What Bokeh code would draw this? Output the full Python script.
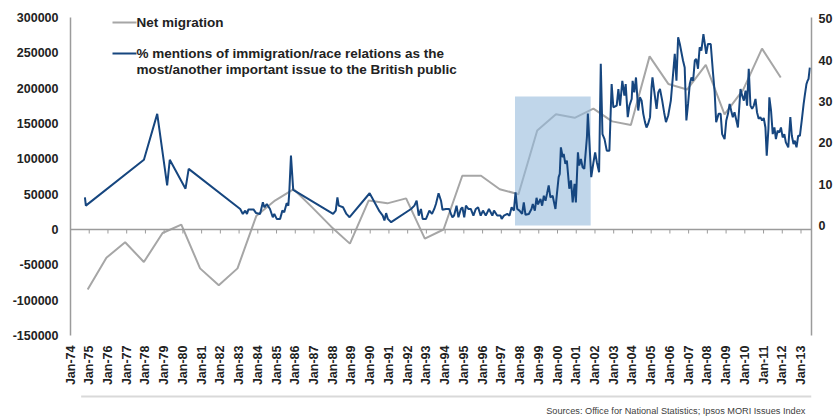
import math
from bokeh.plotting import figure
from bokeh.layouts import column
from bokeh.models import Range1d, LinearAxis, FixedTicker, Label, BoxAnnotation, NumeralTickFormatter, Span
from bokeh.embed import file_html
from bokeh.resources import INLINE

# ---------------- data ----------------
net_years = list(range(1974, 2012))   # plotted at December of each year
net_migration = [-85000, -40000, -18000, -46000, -5000, 7000, -55000, -79000, -55000, 19000,
                 41000, 57000, 31000, 4000, -20000, 41000, 37000, 44000, -13000, 0,
                 76000, 76000, 57000, 50000, 140000, 163000, 158000, 171000, 153000, 148000,
                 245000, 206000, 198000, 233000, 163000, 198000, 256000, 215000]

mori_dates = [
    1974.77, 1974.82, 1977.92, 1978.63, 1979.16, 1979.30, 1980.14, 1980.31,
    1983.06, 1983.20, 1983.33, 1983.42, 1983.50, 1983.77, 1983.91, 1984.12, 1984.27, 1984.35, 1984.48,
    1984.65, 1984.80, 1984.88, 1985.01, 1985.19, 1985.31, 1985.41, 1985.54, 1985.63, 1985.68, 1985.77, 1985.89,
    1988.02, 1988.16, 1988.25, 1988.32, 1988.55, 1988.73, 1988.90, 1989.97,
    1990.50, 1990.67, 1990.76, 1990.85, 1990.94, 1991.12,
    1992.18, 1992.36, 1992.48, 1992.59, 1992.71, 1992.80, 1992.98,
    1993.16, 1993.30, 1993.42, 1993.51, 1993.65, 1993.78, 1993.86,
    1994.04, 1994.22, 1994.31, 1994.39, 1994.48, 1994.61, 1994.71, 1994.84, 1994.92,
    1995.02, 1995.11, 1995.24, 1995.37, 1995.51, 1995.64, 1995.76, 1995.90,
    1996.02, 1996.17, 1996.34, 1996.52, 1996.61, 1996.78, 1996.96,
    1997.02, 1997.14, 1997.32, 1997.44, 1997.55, 1997.67, 1997.76, 1997.85, 1997.97,
    1998.11, 1998.20, 1998.29, 1998.47, 1998.61, 1998.68, 1998.79, 1998.88, 1998.96,
    1999.09, 1999.18, 1999.27, 1999.36, 1999.44, 1999.53, 1999.62, 1999.74, 1999.89, 1999.97,
    2000.06, 2000.12, 2000.18, 2000.28, 2000.33, 2000.42, 2000.50, 2000.63, 2000.72, 2000.81, 2000.91, 2000.98,
    2001.09, 2001.16, 2001.25, 2001.34, 2001.43, 2001.57, 2001.62, 2001.69, 2001.80, 2001.92,
    2002.01, 2002.10, 2002.22, 2002.31, 2002.40, 2002.51, 2002.63, 2002.77, 2002.89, 2002.98,
    2003.16, 2003.25, 2003.34, 2003.46, 2003.57, 2003.64, 2003.75, 2003.84, 2003.96,
    2004.01, 2004.10, 2004.19, 2004.31, 2004.40, 2004.49, 2004.58, 2004.67, 2004.75, 2004.84, 2004.94,
    2005.02, 2005.07, 2005.16, 2005.29, 2005.38, 2005.47, 2005.59, 2005.69, 2005.79, 2005.91,
    2006.05, 2006.17, 2006.26, 2006.35, 2006.44, 2006.53, 2006.70, 2006.79, 2006.88, 2006.97,
    2007.06, 2007.15, 2007.24, 2007.33, 2007.41, 2007.50, 2007.59, 2007.68, 2007.79, 2007.94,
    2008.03, 2008.18, 2008.30, 2008.39, 2008.47, 2008.60, 2008.71, 2008.79, 2008.92,
    2009.01, 2009.10, 2009.19, 2009.27, 2009.36, 2009.45, 2009.59, 2009.63, 2009.77, 2009.86, 2009.95,
    2010.04, 2010.12, 2010.21, 2010.30, 2010.39, 2010.48, 2010.57, 2010.65, 2010.74, 2010.83, 2010.92,
    2011.01, 2011.10, 2011.17, 2011.26, 2011.31, 2011.40, 2011.49, 2011.58, 2011.66, 2011.75, 2011.84, 2011.93,
    2012.02, 2012.11, 2012.19, 2012.32, 2012.43, 2012.51, 2012.60, 2012.67, 2012.76, 2012.85, 2012.94,
    2013.04, 2013.14, 2013.20, 2013.29, 2013.35, 2013.40, 2013.47]

mori_pct = [
    6.8, 4.8, 15.9, 27.0, 9.7, 15.9, 8.9, 13.7,
    4.0, 2.8, 3.6, 2.8, 3.9, 3.9, 3.0, 2.8, 5.6, 4.4, 5.2,
    4.0, 2.0, 2.8, 1.6, 1.6, 3.6, 3.2, 5.4, 4.8, 8.0, 16.9, 8.6,
    2.8, 3.6, 6.8, 4.8, 4.4, 2.8, 2.0, 7.8,
    3.4, 2.4, 1.2, 3.0, 1.6, 0.8,
    4.0, 4.8, 6.0, 2.4, 4.0, 1.6, 1.6,
    3.6, 2.8, 4.0, 5.2, 7.8, 6.0, 3.8,
    4.0, 4.0, 2.8, 2.0, 2.4, 4.8, 2.0, 4.0, 4.4,
    2.0, 4.8, 4.0, 4.0, 2.4, 4.0, 4.4, 2.4,
    3.6, 2.4, 4.0, 2.4, 3.6, 2.4, 2.4,
    1.6, 2.4, 2.8, 2.4, 4.4, 3.6, 8.0, 4.0, 3.6,
    2.8, 5.6, 2.6, 2.8, 4.0, 5.2, 3.6, 6.7, 5.1,
    6.4, 4.8, 7.2, 6.0, 7.7, 9.7, 6.8, 7.2, 4.0, 7.7,
    11.7, 12.5, 18.9, 16.5, 17.3, 14.9, 15.7, 8.9, 10.9, 5.6, 10.1, 5.6,
    17.7, 14.5, 16.1, 14.1, 13.7, 21.3, 27.1, 21.3, 11.7, 15.3,
    17.7, 15.3, 12.9, 39.1, 22.1, 20.9, 18.1, 18.1, 34.2, 28.6,
    29.0, 33.0, 29.0, 35.0, 31.4, 34.2, 26.2, 29.0, 30.6,
    35.0, 32.2, 35.8, 27.8, 31.0, 30.2, 27.0, 25.0, 23.7, 24.6, 26.2,
    33.4, 35.8, 32.6, 28.2, 32.2, 33.0, 30.2, 27.4, 25.0, 26.6,
    30.2, 36.6, 41.5, 35.0, 45.5, 43.9, 39.9, 38.2, 25.4, 29.4,
    34.2, 35.8, 35.0, 39.9, 40.3, 37.9, 43.1, 42.3, 46.3, 41.5,
    43.9, 43.9, 37.0, 32.2, 25.0, 27.0, 27.0, 22.1, 20.9,
    25.4, 27.0, 29.4, 27.8, 26.2, 27.4, 24.6, 23.7, 33.0, 31.4, 30.2,
    32.6, 29.0, 37.9, 29.0, 28.2, 29.0, 30.6, 27.4, 25.8, 26.2, 25.4,
    26.0, 23.7, 16.9, 23.4, 31.0, 27.8, 22.1, 23.7, 20.9, 22.9, 22.5, 23.7,
    21.3, 22.1, 20.1, 18.9, 26.2, 21.7, 19.7, 20.5, 18.9, 21.7, 21.7,
    25.4, 29.4, 31.4, 34.2, 35.0, 35.4, 38.2]

highlight_start, highlight_end = 1997.73, 2001.77
highlight_top_pct = 31.2

tick_years = list(range(1974, 2014))
tick_labels = ["Jan-%02d" % (y % 100) for y in tick_years]
left_ticks = [-150000, -100000, -50000, 0, 50000, 100000, 150000, 200000, 250000, 300000]
right_ticks = [0, 10, 20, 30, 40, 50]

legend_net = "Net migration"
legend_mori_1 = "% mentions of immigration/race relations as the"
legend_mori_2 = "most/another important issue to the British public"
source_text = "Sources: Office for National Statistics; Ipsos MORI Issues  Index"

# ---------------- styling ----------------
FONT = "Liberation Sans"
W = 835
H_MAIN, H_FOOT = 394, 22
BL, BT, BR, BB = 70, 17, 21, 59      # borders of the main figure
AX_GREY = "#9b9b9b"
TXT = "#222222"
BLUE = "#16467f"
GREY = "#a6a6a6"

p = figure(width=W, height=H_MAIN, output_backend="svg", toolbar_location=None,
           x_range=Range1d(1974.0, 2013.56), y_range=Range1d(-150000, 300000),
           min_border_left=BL, min_border_right=BR, min_border_top=BT, min_border_bottom=BB)
p.extra_y_ranges = {"pct": Range1d(-26.6, 50.3)}
p.grid.visible = False
p.outline_line_color = None
p.background_fill_color = "white"
p.border_fill_color = "white"

def style_axis(ax, standoff):
    ax.major_tick_in = 0
    ax.major_tick_out = 0
    ax.minor_tick_in = 0
    ax.minor_tick_out = 0
    ax.major_tick_line_color = None
    ax.minor_tick_line_color = None
    ax.major_label_standoff = standoff
    ax.major_label_text_font = FONT
    ax.major_label_text_font_style = "bold"
    ax.major_label_text_font_size = "12.5px"
    ax.major_label_text_color = TXT

# left axis
ya = p.yaxis[0]
ya.ticker = FixedTicker(ticks=left_ticks, minor_ticks=[])
ya.formatter = NumeralTickFormatter(format="0")
ya.axis_line_color = AX_GREY
ya.axis_line_width = 1.5
style_axis(ya, 12)

# right axis
ra = LinearAxis(y_range_name="pct", ticker=FixedTicker(ticks=right_ticks, minor_ticks=[]))
ra.axis_line_color = AX_GREY
ra.axis_line_width = 1.5
style_axis(ra, 7)
p.add_layout(ra, "right")

# bottom labelled axis
xa = p.xaxis[0]
xa.ticker = FixedTicker(ticks=tick_years, minor_ticks=[])
xa.major_label_overrides = {y: lab for y, lab in zip(tick_years, tick_labels)}
xa.major_label_orientation = math.pi / 2
xa.axis_line_color = None
style_axis(xa, 10)

# horizontal axis line crossing at zero, with ticks at each January
p.add_layout(Span(location=0, dimension="width", line_color=AX_GREY, line_width=1.5))
tick_len = (p.y_range.end - p.y_range.start) / 318 * 4
p.segment(x0=tick_years, x1=tick_years, y0=[0] * len(tick_years), y1=[-tick_len] * len(tick_years),
          line_color=AX_GREY, line_width=1)

# series
net_x = [y + 11 / 12 for y in net_years]
p.line(net_x, net_migration, line_color=GREY, line_width=2)
p.quad(left=[highlight_start], right=[highlight_end], bottom=[0], top=[highlight_top_pct],
       y_range_name="pct", fill_color="#96bbdc", fill_alpha=0.6, line_color=None)
p.line(mori_dates, mori_pct, y_range_name="pct", line_color=BLUE, line_width=2)

# legend (manual; screen units are relative to the plot frame, y up from its bottom)
FB = H_MAIN - BB   # frame bottom in canvas pixels
def sx(cx):
    return cx - BL
def sy(cy):
    return FB - cy

for col, cy in [(GREY, 22), (BLUE, 53)]:
    p.add_layout(BoxAnnotation(left=sx(112), right=sx(136), bottom=sy(cy + 1), top=sy(cy - 1),
                               left_units="screen", right_units="screen",
                               bottom_units="screen", top_units="screen",
                               fill_color=col, fill_alpha=1, line_alpha=0))
for txt, cy in [(legend_net, 22), (legend_mori_1, 53), (legend_mori_2, 69)]:
    p.add_layout(Label(x=sx(136), y=sy(cy), x_units="screen", y_units="screen", text=txt,
                       text_font=FONT, text_font_style="bold", text_font_size="13.5px",
                       text_color=TXT, text_baseline="middle", text_align="left"))

# footer: separator and source
f = figure(width=W, height=H_FOOT, output_backend="svg", toolbar_location=None,
           x_range=Range1d(0, W), y_range=Range1d(0, H_FOOT),
           x_axis_type=None, y_axis_type=None, min_border=0)
f.grid.visible = False
f.outline_line_color = None
f.add_layout(BoxAnnotation(left=12, right=W, bottom=H_FOOT - 3, top=H_FOOT - 1,
                           fill_color="#d9d9d9", fill_alpha=1, line_alpha=0))
f.add_layout(Label(x=W - 4, y=H_FOOT - 16.7, text=source_text,
                   text_font=FONT, text_font_size="9.2px", text_color="#404040",
                   text_baseline="middle", text_align="right"))

layout = column(p, f, spacing=0)
open("out.html", "w").write(file_html(layout, INLINE))
